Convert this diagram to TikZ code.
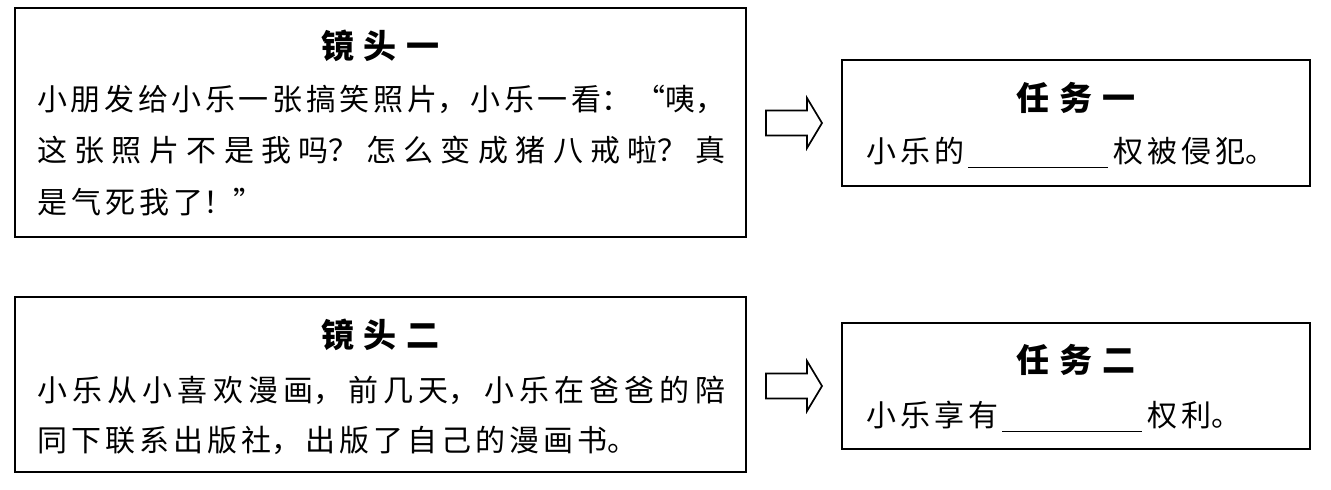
\documentclass[tikz,border=0pt]{standalone}
\usepackage{fontspec}
\usetikzlibrary{positioning}
\newfontfamily\cjk{Noto Sans CJK SC}
% break and spacing between hanzi
\XeTeXlinebreaklocale "zh"
\XeTeXlinebreakskip=4pt plus 6pt minus 1.5pt

\tikzset{
  framebox/.style={draw, line width=1.6pt},
  headtext/.style={anchor=base, inner sep=0pt, text width=240pt, align=center,
    font=\cjk\bfseries\fontsize{33}{40}\selectfont},
  bodytext/.style={anchor=base west, inner sep=0pt, text width=688pt, align=justify,
    font=\cjk\fontsize{30}{51.5}\selectfont},
  tasktext/.style={anchor=base west, inner sep=0pt, text width=440pt, align=left,
    font=\cjk\fontsize{30}{51}\selectfont},
  hollowarrow/.pic={
    \draw[line width=1.7pt, line join=miter]
      (0,-12.5) -- (41,-12.5) -- (41,-25) -- (56,0) -- (41,25) -- (41,12.5) -- (0,12.5) -- cycle;
  }
}
\newcommand{\blank}{\hspace{4pt}\rule[-6pt]{140pt}{1pt}\hspace{5pt}}

\begin{document}
\begin{tikzpicture}[x=1pt, y=-1pt]
  \fill[white] (0,0) rectangle (1331,490);
  \useasboundingbox (0,0) rectangle (1331,490);

  % shot one
  \draw[framebox] (15,8) rectangle (746,237);
  \node[headtext] (shotone) at (380.5,58.5) {镜头一};
  \node[bodytext] (shotonetext) at (37,110) {小朋发给小乐一张搞笑照片，小乐一看：“咦，\linebreak 这张照片不是我吗？怎么变成猪八戒啦？真\linebreak 是气死我了！”};

  % task one
  \draw[framebox] (842,60) rectangle (1310,186);
  \node[headtext] (taskone) at (1076,110) {任务一};
  \node[tasktext] (taskonetext) at (866,162) {小乐的\blank 权被侵犯。};

  \pic at (766,123) {hollowarrow};

  % shot two
  \draw[framebox] (15,297) rectangle (746,472);
  \node[headtext] (shottwo) at (380.5,347.5) {镜头二};
  \node[bodytext, font=\cjk\fontsize{30}{50}\selectfont] (shottwotext) at (37,401.4) {小乐从小喜欢漫画，前几天，小乐在爸爸的陪\linebreak 同下联系出版社，出版了自己的漫画书。};

  % task two
  \draw[framebox] (842,323) rectangle (1310,449);
  \node[headtext] (tasktwo) at (1076,372.5) {任务二};
  \node[tasktext] (tasktwotext) at (866,426) {小乐享有\blank 权利。};

  \pic at (766,386) {hollowarrow};
\end{tikzpicture}
\end{document}
